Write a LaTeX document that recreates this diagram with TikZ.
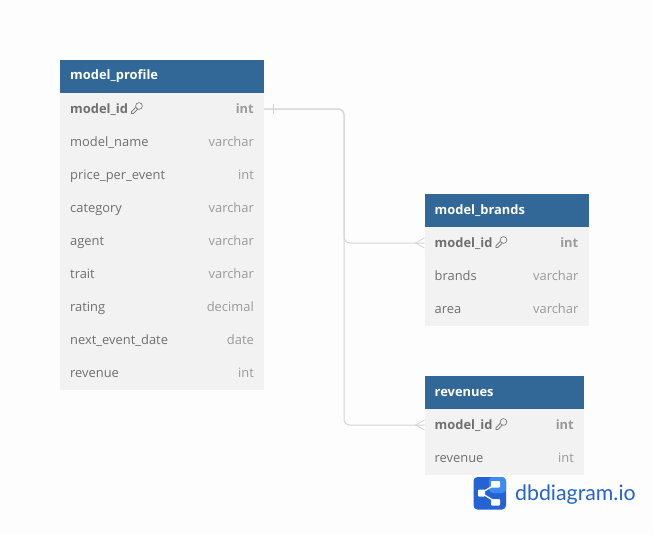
\documentclass[tikz,border=0pt]{standalone}
\usepackage{fontspec}
\setmainfont{Open Sans}
\newfontfamily\logofont{Lato}
\definecolor{headblue}{HTML}{316897}
\definecolor{rowgrey}{HTML}{F2F2F2}
\definecolor{namegrey}{HTML}{707070}
\definecolor{typegrey}{HTML}{9A9A9A}
\definecolor{linkgrey}{HTML}{D5D5D5}
\definecolor{pagegrey}{HTML}{FDFDFD}
\definecolor{logodark}{HTML}{2563D4}
\definecolor{logolight}{HTML}{3D8BF2}
\tikzset{
  tablehead/.style={fill=headblue, anchor=north west, inner sep=0pt, minimum height=33pt},
  tablerow/.style={fill=rowgrey, anchor=north west, inner sep=0pt},
  colname/.style={text=namegrey, font=\fontsize{12.9}{15}\selectfont, anchor=base west, inner sep=0pt},
  coltype/.style={text=typegrey, font=\fontsize{12.9}{15}\selectfont, anchor=base east, inner sep=0pt},
  keyname/.style={colname, font=\fontsize{12.9}{15}\selectfont\bfseries},
  keytype/.style={coltype, font=\fontsize{12.9}{15}\selectfont\bfseries},
  tabletitle/.style={colname, text=white, font=\fontsize{12.9}{15}\selectfont\bfseries},
  link/.style={draw=linkgrey, line width=1pt, rounded corners=6pt},
  foot/.style={draw=linkgrey, line width=0.8pt},
  keyicon/.pic={
    \draw[namegrey, line width=0.6pt] (2,-2.5) circle (3.4);
    \draw[namegrey, line width=0.6pt] (-1.2,-1.2) -- (-5.5,3.1) -- (-5.5,5) -- (-3.7,5.1) -- (0.7,0.7);
  }
}
\begin{document}
\begin{tikzpicture}[x=1pt, y=-1pt]
\useasboundingbox[fill=pagegrey] (0,0) rectangle (653,535);
% model_profile
\node[tablerow, minimum width=204pt, minimum height=297pt] (P_body) at (60,93) {};
\node[tablehead, minimum width=204pt] (P_head) at (60,60) {};
\node[tabletitle] (P_title) at (70,80) {model\_profile};
\coordinate (P_id) at (264,109);
\node[keyname] (P_0_0) at (70,113) {model\_id};
\node[keytype] (P_0_1) at (254,113) {int};
\node[colname] (P_1_0) at (70,146) {model\_name};
\node[coltype] (P_1_1) at (254,146) {varchar};
\node[colname] (P_2_0) at (70,179) {price\_per\_event};
\node[coltype] (P_2_1) at (254,179) {int};
\node[colname] (P_3_0) at (70,212) {category};
\node[coltype] (P_3_1) at (254,212) {varchar};
\node[colname] (P_4_0) at (70,245) {agent};
\node[coltype] (P_4_1) at (254,245) {varchar};
\node[colname] (P_5_0) at (70,278) {trait};
\node[coltype] (P_5_1) at (254,278) {varchar};
\node[colname] (P_6_0) at (70,311) {rating};
\node[coltype] (P_6_1) at (254,311) {decimal};
\node[colname] (P_7_0) at (70,344) {next\_event\_date};
\node[coltype] (P_7_1) at (254,344) {date};
\node[colname] (P_8_0) at (70,377) {revenue};
\node[coltype] (P_8_1) at (254,377) {int};
\pic at (137,108.5) {keyicon};
% model_brands
\node[tablerow, minimum width=164pt, minimum height=99pt] (B_body) at (424.5,227) {};
\node[tablehead, minimum width=164pt] (B_head) at (424.5,194) {};
\node[tabletitle] (B_title) at (434.5,214) {model\_brands};
\coordinate (B_id) at (424.5,243);
\node[keyname] (B_0_0) at (434.5,247) {model\_id};
\node[keytype] (B_0_1) at (578.5,247) {int};
\node[colname] (B_1_0) at (434.5,280) {brands};
\node[coltype] (B_1_1) at (578.5,280) {varchar};
\node[colname] (B_2_0) at (434.5,313) {area};
\node[coltype] (B_2_1) at (578.5,313) {varchar};
\pic at (501.5,242.5) {keyicon};
% revenues
\node[tablerow, minimum width=159.5pt, minimum height=66pt] (R_body) at (424.5,409) {};
\node[tablehead, minimum width=159.5pt] (R_head) at (424.5,376) {};
\node[tabletitle] (R_title) at (434.5,396) {revenues};
\coordinate (R_id) at (424.5,425);
\node[keyname] (R_0_0) at (434.5,429) {model\_id};
\node[keytype] (R_0_1) at (574,429) {int};
\node[colname] (R_1_0) at (434.5,462) {revenue};
\node[coltype] (R_1_1) at (574,462) {int};
\pic at (501.5,424.5) {keyicon};
% connectors
\coordinate (T_top) at (344,109);
\coordinate (T_mid) at (344,243);
\coordinate (T_bot) at (344,425);
\draw[link] (P_id) -- (T_top) -- (T_mid) -- (B_id);
\draw[link] (P_id) -- (T_top) -- (T_bot) -- (R_id);
\draw[foot] (273,104) -- (273,114);
\draw[foot] ([yshift=5pt]B_id) -- ++(-9,5) -- ++(9,5);
\draw[foot] ([yshift=5pt]R_id) -- ++(-9,5) -- ++(9,5);
% logo
\fill[logodark, rounded corners=4pt] (473.5,477) rectangle (506,509.5);
\fill[logolight, rounded corners=4pt] (489,477) -- (506,477) -- (506,493) -- (489,493) -- cycle;
\draw[white, line width=1.3pt] (496,484) -- (481,493) -- (496,502);
\fill[white, rounded corners=0.8pt] (491,481) rectangle (500,487.5);
\fill[white, rounded corners=0.8pt] (491,499) rectangle (500,505.5);
\fill[white, rounded corners=0.8pt] (478,489.5) rectangle (485,496.5);
\node[anchor=base west, inner sep=0pt, text=logodark, font=\fontsize{21.3}{25}\logofont] (L_text) at (515,500.5) {dbdiagram.io};
\end{tikzpicture}
\end{document}
